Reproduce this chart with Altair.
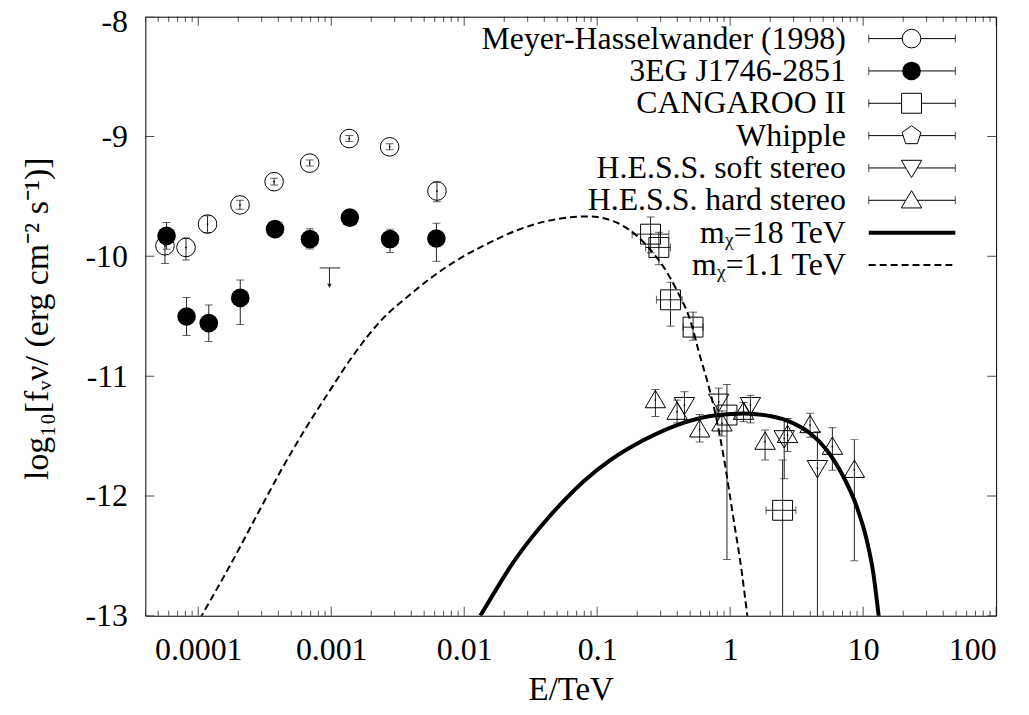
import altair as alt
import pandas as pd

FONT = "Liberation Serif"
FS = 32
EB = "#222222"

# ---------------- data ----------------
# Meyer-Hasselwander (1998)  (open circles)
mh_E = [5.62e-5, 8.09e-5, 1.175e-4, 2.06e-4, 3.72e-4, 6.89e-4, 1.365e-3, 2.75e-3, 6.24e-3]
mh_y = [-9.912, -9.926, -9.731, -9.571, -9.377, -9.222, -9.017, -9.086, -9.455]
mh_lo = [-10.06, -10.031, -9.801, -9.607, -9.405, -9.247, -9.042, -9.111, -9.544]
mh_hi = [-9.77, -9.848, -9.662, -9.532, -9.349, -9.197, -8.992, -9.061, -9.380]

# 3EG J1746-2851 (filled circles)
eg_E = [5.78e-5, 8.17e-5, 1.20e-4, 2.07e-4, 3.78e-4, 6.92e-4, 1.38e-3, 2.77e-3, 6.18e-3]
eg_y = [-9.829, -10.502, -10.558, -10.347, -9.773, -9.856, -9.677, -9.856, -9.851]
eg_lo = [-9.94, -10.660, -10.710, -10.569, -9.80, -9.939, -9.70, -9.968, -10.042]
eg_hi = [-9.718, -10.344, -10.406, -10.197, -9.745, -9.77, -9.65, -9.773, -9.723]

# upper limit (arrow)
ul_E = [9.7e-4]
ul_Elo = [8.2e-4]
ul_Ehi = [1.17e-3]
ul_y = [-10.097]
ul_tip = [-10.245]

# CANGAROO II (squares)
can_E = [0.252, 0.291, 0.356, 0.526, 0.946, 2.48]
can_y = [-9.815, -9.926, -10.363, -10.591, -11.325, -12.12]
can_lo = [-9.970, -10.070, -10.583, -10.70, -12.53, -13.5]
can_hi = [-9.671, -9.80, -10.217, -10.466, -11.07, -11.70]
can_Elo = [0.183, 0.231, 0.279, 0.443, 0.82, 1.86]
can_Ehi = [0.346, 0.356, 0.435, 0.625, 1.09, 3.12]

# H.E.S.S. soft stereo (down triangles)
soft_E = [0.453, 0.820, 1.42, 2.55, 4.53]
soft_y = [-11.242, -11.214, -11.242, -11.519, -11.768]
soft_lo = [-11.39, -11.34, -11.39, -11.857, -13.5]
soft_hi = [-11.13, -11.10, -11.16, -11.353, -11.464]

# H.E.S.S. hard stereo (up triangles)
hard_E = [0.274, 0.399, 0.590, 0.867, 1.26, 1.83, 2.70, 3.99, 5.87, 8.59]
hard_y = [-11.200, -11.297, -11.444, -11.394, -11.297, -11.547, -11.491, -11.408, -11.589, -11.782]
hard_lo = [-11.336, -11.39, -11.55, -11.50, -11.38, -11.70, -11.630, -11.51, -11.785, -12.54]
hard_hi = [-11.111, -11.20, -11.32, -11.29, -11.22, -11.45, -11.353, -11.31, -11.43, -11.53]

# m_chi = 18 TeV (thick solid)
dm18_log10E = [-1.879, -1.774, -1.650, -1.524, -1.374, -1.224, -1.099, -0.899, -0.649, -0.399,
               -0.149, 0.101, 0.301, 0.476, 0.601, 0.726, 0.851, 0.951, 1.026, 1.076, 1.114, 1.12]
dm18_y = [-13.0, -12.807, -12.586, -12.392, -12.19, -12.01, -11.875, -11.699, -11.533, -11.408,
          -11.333, -11.311, -11.333, -11.394, -11.477, -11.616, -11.838, -12.087, -12.364, -12.641,
          -12.974, -13.03]

# m_chi = 1.1 TeV (dashed)
dm11_log10E = [-3.99, -3.75, -3.55, -3.375, -3.2, -3.025, -2.825, -2.625, -2.4, -2.175, -1.975,
               -1.825, -1.675, -1.525, -1.375, -1.225, -1.075, -0.95, -0.8, -0.7, -0.6, -0.5, -0.4,
               -0.3, -0.225, -0.174, -0.112, -0.049, 0.026, 0.088, 0.126, 0.132]
dm11_y = [-13.03, -12.558, -12.142, -11.782, -11.45, -11.145, -10.812, -10.535, -10.313, -10.12,
          -9.981, -9.895, -9.815, -9.752, -9.705, -9.677, -9.667, -9.682, -9.75, -9.83, -9.945,
          -10.09, -10.286, -10.535, -10.84, -11.034, -11.311, -11.672, -12.198, -12.641, -12.974,
          -13.03]

legend_labels = ["Meyer-Hasselwander (1998)", "3EG J1746-2851", "CANGAROO II", "Whipple",
                 "H.E.S.S. soft stereo", "H.E.S.S. hard stereo", "m\u1d6a=18 TeV", "m\u1d6a=1.1 TeV"]

x_major = [1e-4, 1e-3, 1e-2, 0.1, 1, 10, 100]
y_major = [-13, -12, -11, -10, -9, -8]

# ---------------- layout ----------------
X_MIN, X_MAX = 4e-5, 100
Y_MIN, Y_MAX = -13, -8
W, H = 855, 602

xscale = alt.Scale(type="log", domain=[X_MIN, X_MAX])
yscale = alt.Scale(domain=[Y_MIN, Y_MAX])

xaxis = alt.Axis(values=x_major, labelExpr="'' + datum.value", ticks=False, domain=False,
                 grid=False, labelFont=FONT, labelFontSize=FS, labelColor="black",
                 labelBaseline="alphabetic", labelPadding=44, labelOverlap=False,
                 title="E/TeV", titleFont=FONT, titleFontSize=33, titleFontWeight="normal",
                 titleColor="black", titleBaseline="alphabetic", titleY=84)
yaxis = alt.Axis(values=y_major, labelExpr="'' + datum.value", ticks=False, domain=False,
                 grid=False, labelFont=FONT, labelFontSize=FS, labelColor="black",
                 labelPadding=18, labelOverlap=False,
                 labelOffset={"condition": {"test": "datum.value == -8", "value": 5}, "value": 0},
                 title="log\u2081\u2080[f\u1d65\u03bd/ (erg cm\u207b\u00b2 s\u207b\u00b9)]",
                 titleFont=FONT, titleFontSize=34, titleFontWeight="normal", titleColor="black",
                 titleAngle=270, titleBaseline="alphabetic", titleX=-98, titleY=H / 2 + 2,
                 titleAlign="center")


def X(f):
    return alt.X(f"{f}:Q", scale=xscale, axis=xaxis)


def Y(f):
    return alt.Y(f"{f}:Q", scale=yscale, axis=yaxis)


layers = []

# inward ticks on all four sides
x_minor = []
for d in range(-5, 2):
    for k in range(2, 10):
        v = k * 10.0 ** d
        if X_MIN <= v <= X_MAX:
            x_minor.append(v)
for vals, ln in ((x_major, 18), (x_minor, 10)):
    tdf = pd.DataFrame({"E": vals * 2, "y": [Y_MIN] * len(vals) + [Y_MAX] * len(vals)})
    layers.append(alt.Chart(tdf).mark_tick(orient="vertical", size=ln, thickness=1,
                                           color="black", clip=True)
                  .encode(x=X("E"), y=Y("y")))
ydf = pd.DataFrame({"E": [X_MIN] * len(y_major) + [X_MAX] * len(y_major), "y": y_major * 2})
layers.append(alt.Chart(ydf).mark_tick(orient="horizontal", size=18, thickness=1,
                                       color="black", clip=True)
              .encode(x=X("E"), y=Y("y")))


def series(E, y, lo, hi, shape, filled, size, Elo=None, Ehi=None):
    df = pd.DataFrame({"E": E, "y": y, "lo": lo, "hi": hi})
    out = [alt.Chart(df).mark_rule(color=EB, strokeWidth=1, clip=True)
           .encode(x=X("E"), y=Y("lo"), y2=alt.Y2("hi"))]
    caps = pd.DataFrame({"E": E + E, "v": lo + hi})
    out.append(alt.Chart(caps).mark_tick(orient="horizontal", size=8, thickness=1, color=EB,
                                         clip=True).encode(x=X("E"), y=Y("v")))
    if Elo is not None:
        df["Elo"] = Elo
        df["Ehi"] = Ehi
        out.append(alt.Chart(df).mark_rule(color=EB, strokeWidth=1, clip=True)
                   .encode(x=X("Elo"), x2=alt.X2("Ehi"), y=Y("y")))
        hc = pd.DataFrame({"E": Elo + Ehi, "y": y + y})
        out.append(alt.Chart(hc).mark_tick(orient="vertical", size=8, thickness=1, color=EB,
                                           clip=True).encode(x=X("E"), y=Y("y")))
    out.append(alt.Chart(df).mark_point(shape=shape, filled=filled, size=size, color="black",
                                        strokeWidth=1, opacity=1, clip=True)
               .encode(x=X("E"), y=Y("y")))
    if not filled:
        out.append(alt.Chart(df).mark_point(shape="circle", filled=True, size=3, color="black",
                                            opacity=1).encode(x=X("E"), y=Y("y")))
    return out


TRI_UP = "M0,-0.95L1,0.75L-1,0.75Z"
TRI_DN = "M0,0.95L1,-0.75L-1,-0.75Z"
PENT = "M0,-1L0.951,-0.309L0.588,0.809L-0.588,0.809L-0.951,-0.309Z"

layers += series(mh_E, mh_y, mh_lo, mh_hi, "circle", False, 350)
layers += series(eg_E, eg_y, eg_lo, eg_hi, "circle", True, 350)
layers += series(can_E, can_y, can_lo, can_hi, "square", False, 400, can_Elo, can_Ehi)
layers += series(soft_E, soft_y, soft_lo, soft_hi, TRI_DN, False, 420)
layers += series(hard_E, hard_y, hard_lo, hard_hi, TRI_UP, False, 420)

# upper limit arrow
uldf = pd.DataFrame({"E": ul_E, "Elo": ul_Elo, "Ehi": ul_Ehi, "y": ul_y, "tip": ul_tip})
layers.append(alt.Chart(uldf).mark_rule(color=EB, strokeWidth=1)
              .encode(x=X("Elo"), x2=alt.X2("Ehi"), y=Y("y")))
layers.append(alt.Chart(uldf).mark_rule(color=EB, strokeWidth=1)
              .encode(x=X("E"), y=Y("y"), y2=alt.Y2("tip")))
layers.append(alt.Chart(uldf).mark_point(shape="triangle-down", filled=True, size=22,
                                         color=EB, opacity=1)
              .encode(x=X("E"), y=Y("tip")))

# model curves
d18 = pd.DataFrame({"E": [10 ** v for v in dm18_log10E], "y": dm18_y})
d11 = pd.DataFrame({"E": [10 ** v for v in dm11_log10E], "y": dm11_y})
layers.append(alt.Chart(d11).mark_line(color="black", strokeWidth=2, strokeDash=[7, 4],
                                       clip=True, interpolate="monotone")
              .encode(x=X("E"), y=Y("y"), order="E:Q"))
layers.append(alt.Chart(d18).mark_line(color="black", strokeWidth=4, clip=True,
                                       interpolate="monotone")
              .encode(x=X("E"), y=Y("y"), order="E:Q"))

# ---------------- key (top right) ----------------
ROW0, ROWSTEP = 22, 32.5       # pixels below the top of the plot
TXT_X, L0, L1, SYM_X = 704, 727, 814, 770
ly = [Y_MAX - (ROW0 + ROWSTEP * k) / (H / (Y_MAX - Y_MIN)) for k in range(len(legend_labels))]
kdf = pd.DataFrame({"label": legend_labels, "ly": ly})
layers.append(alt.Chart(kdf).mark_text(align="right", baseline="middle", font=FONT, fontSize=FS,
                                       color="black")
              .encode(x=alt.value(TXT_X), y=Y("ly"), text="label:N"))
pts = kdf.iloc[:6]
layers.append(alt.Chart(pts).mark_rule(color="black", strokeWidth=1)
              .encode(x=alt.value(L0), x2=alt.value(L1), y=Y("ly")))
for xx in (L0, L1):
    layers.append(alt.Chart(pts).mark_tick(orient="vertical", size=8, thickness=1, color="black")
                  .encode(x=alt.value(xx), y=Y("ly")))
key_shapes = [("circle", False, 350), ("circle", True, 350), ("square", False, 400),
              (PENT, False, 400), (TRI_DN, False, 420), (TRI_UP, False, 420)]
for i, (shp, fl, sz) in enumerate(key_shapes):
    layers.append(alt.Chart(kdf.iloc[i:i + 1]).mark_point(shape=shp, filled=fl, size=sz,
                                                          color="black", strokeWidth=1,
                                                          opacity=1, fill="white" if not fl else "black")
                  .encode(x=alt.value(SYM_X), y=Y("ly")))
layers.append(alt.Chart(kdf.iloc[6:7]).mark_rule(color="black", strokeWidth=4)
              .encode(x=alt.value(L0), x2=alt.value(L1), y=Y("ly")))
layers.append(alt.Chart(kdf.iloc[7:8]).mark_rule(color="black", strokeWidth=2, strokeDash=[7, 4])
              .encode(x=alt.value(L0), x2=alt.value(L1), y=Y("ly")))

chart = (alt.layer(*layers)
         .properties(width=W, height=H, autosize=alt.AutoSizeParams(type="none"),
                     padding={"left": 138, "top": 7, "right": 25, "bottom": 98},
                     background="white")
         .configure_view(stroke="black", strokeWidth=1))

chart.save("out.html", embed_options={"renderer": "svg", "actions": False})
